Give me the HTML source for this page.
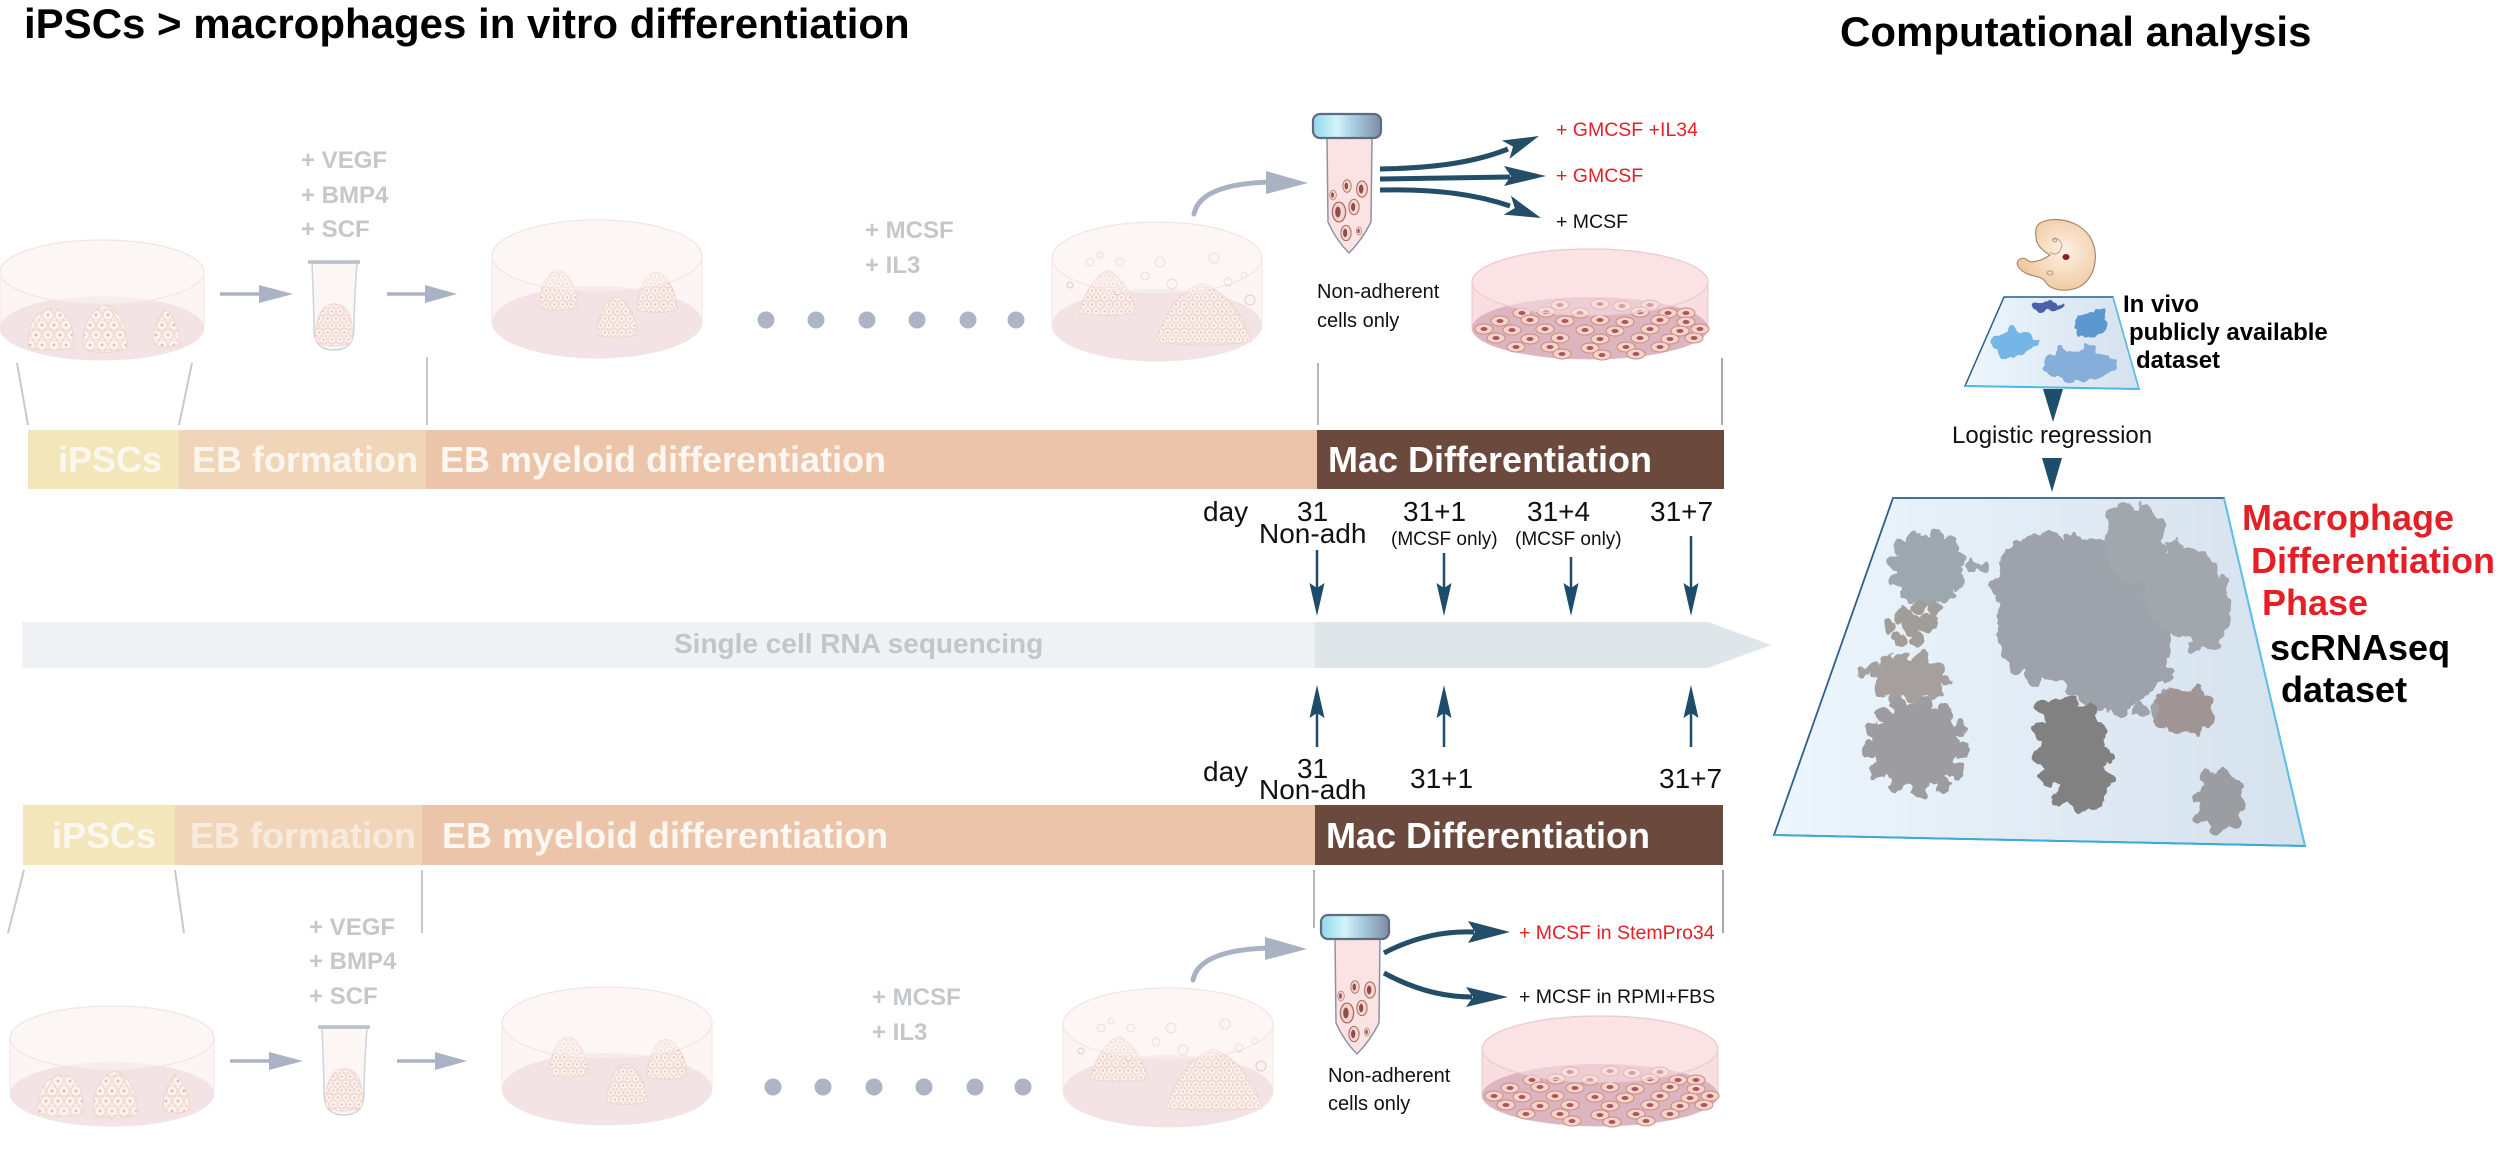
<!DOCTYPE html>
<html><head><meta charset="utf-8">
<style>
html,body{margin:0;padding:0;background:#fff;}
svg{display:block;}
text{font-family:"Liberation Sans",Arial,sans-serif;}
</style></head><body>
<svg width="2500" height="1150" viewBox="0 0 2500 1150" xmlns="http://www.w3.org/2000/svg" xmlns:xlink="http://www.w3.org/1999/xlink">
<defs>
  <filter id="rough" x="-15%" y="-15%" width="130%" height="130%">
    <feTurbulence type="fractalNoise" baseFrequency="0.09" numOctaves="2" seed="4" result="n"/>
    <feDisplacementMap in="SourceGraphic" in2="n" scale="12" xChannelSelector="R" yChannelSelector="G"/>
  </filter>
  <pattern id="cp" width="12" height="20" patternUnits="userSpaceOnUse">
    <rect width="12" height="20" fill="#faece6"/>
    <circle cx="6" cy="5" r="5.2" fill="#fdf4f0" stroke="#eccfc7" stroke-width="0.8"/>
    <circle cx="6" cy="5" r="1.5" fill="#e2bfbf"/>
    <circle cx="0" cy="15" r="5.2" fill="#fdf4f0" stroke="#eccfc7" stroke-width="0.8"/>
    <circle cx="0" cy="15" r="1.5" fill="#e2bfbf"/>
    <circle cx="12" cy="15" r="5.2" fill="#fdf4f0" stroke="#eccfc7" stroke-width="0.8"/>
    <circle cx="12" cy="15" r="1.5" fill="#e2bfbf"/>
  </pattern>
  <pattern id="cps" width="12" height="20" patternUnits="userSpaceOnUse" patternTransform="scale(0.7)">
    <rect width="12" height="20" fill="#faece6"/>
    <circle cx="6" cy="5" r="5.2" fill="#fdf4f0" stroke="#eccfc7" stroke-width="1"/>
    <circle cx="6" cy="5" r="1.6" fill="#e2bfbf"/>
    <circle cx="0" cy="15" r="5.2" fill="#fdf4f0" stroke="#eccfc7" stroke-width="1"/>
    <circle cx="0" cy="15" r="1.6" fill="#e2bfbf"/>
    <circle cx="12" cy="15" r="5.2" fill="#fdf4f0" stroke="#eccfc7" stroke-width="1"/>
    <circle cx="12" cy="15" r="1.6" fill="#e2bfbf"/>
  </pattern>
  <linearGradient id="capg" x1="0" x2="1" y1="0" y2="0">
    <stop offset="0" stop-color="#8fd8ec"/>
    <stop offset="0.35" stop-color="#d4f4fb"/>
    <stop offset="0.6" stop-color="#a8cde0"/>
    <stop offset="1" stop-color="#7d8ca3"/>
  </linearGradient>
  <linearGradient id="pang" x1="0" x2="1" y1="0" y2="0">
    <stop offset="0" stop-color="#edf6fd"/>
    <stop offset="1" stop-color="#d5e1ed"/>
  </linearGradient>
  <radialGradient id="embg" cx="0.6" cy="0.45" r="0.6">
    <stop offset="0" stop-color="#fdf1e4"/>
    <stop offset="1" stop-color="#f0c79e"/>
  </radialGradient>
  <g id="cell4">
    <ellipse rx="9" ry="5" fill="#f6d3c6" stroke="#c68b88" stroke-width="1"/>
    <ellipse rx="3.5" ry="2" fill="#a75762"/>
  </g>
  <g id="tcell">
    <ellipse rx="6" ry="9" fill="#f5d6ca" stroke="#a86d68" stroke-width="1.2"/>
    <ellipse cx="-1" rx="2.5" ry="5" fill="#8d4c52"/>
  </g>

  <g id="dish1">
    <path d="M0,272 L0,328 A102,32 0 0 0 204,328 L204,272 A102,32 0 0 0 0,272 Z" fill="#fcf5f4" stroke="#f3e6e5" stroke-width="1"/>
    <ellipse cx="102" cy="328" rx="102" ry="32" fill="#f3e3e4"/>
    <path d="M28,347 Q27,318 44,311 Q52,305 60,311 Q75,320 73,347 Q50,354 28,347 Z" fill="url(#cp)" stroke="#efd7d1"/>
    <path d="M83,349 Q83,316 100,307 Q108,303 114,310 Q128,322 127,349 Q105,356 83,349 Z" fill="url(#cp)" stroke="#efd7d1"/>
    <path d="M153,344 Q153,320 165,309 Q178,318 180,344 Q166,350 153,344 Z" fill="url(#cp)" stroke="#efd7d1"/>
    <ellipse cx="102" cy="272" rx="102" ry="32" fill="#fdf8f7" fill-opacity="0.45" stroke="#f2e3e2" stroke-width="1"/>
  </g>
  <g id="dish2">
    <path d="M492,256 L492,322 A105,36 0 0 0 702,322 L702,256 A105,36 0 0 0 492,256 Z" fill="#fcf5f4" stroke="#f3e6e5" stroke-width="1"/>
    <ellipse cx="597" cy="322" rx="105" ry="36" fill="#f3e3e4"/>
    <path d="M539,308 Q540,282 552,272 Q560,268 566,274 Q578,288 578,308 Q558,313 539,308 Z" fill="url(#cps)" stroke="#efd7d1"/>
    <path d="M597,335 Q598,310 610,299 Q618,295 624,301 Q637,315 637,335 Q617,340 597,335 Z" fill="url(#cps)" stroke="#efd7d1"/>
    <path d="M637,310 Q638,285 650,274 Q658,270 664,276 Q677,290 677,310 Q657,315 637,310 Z" fill="url(#cps)" stroke="#efd7d1"/>
    <ellipse cx="597" cy="256" rx="105" ry="36" fill="#fdf8f7" fill-opacity="0.4" stroke="#f2e3e2" stroke-width="1"/>
  </g>
  <g id="dish3">
    <path d="M1052,258 L1052,325 A105,36 0 0 0 1262,325 L1262,258 A105,36 0 0 0 1052,258 Z" fill="#fcf5f4" stroke="#f3e6e5" stroke-width="1"/>
    <ellipse cx="1157" cy="325" rx="105" ry="36" fill="#f3e3e4"/>
    <path d="M1079,313 Q1090,277 1108,270 Q1128,280 1137,313 Q1108,318 1079,313 Z" fill="url(#cps)" stroke="#efd7d1"/>
    <path d="M1155,342 Q1172,292 1203,283 Q1240,300 1251,342 Q1203,348 1155,342 Z" fill="url(#cps)" stroke="#efd7d1"/>
    <g fill="#fdf3ef" stroke="#e9c9c2" stroke-width="1">
      <circle cx="1090" cy="262" r="4"/><circle cx="1100" cy="255" r="3"/><circle cx="1120" cy="262" r="4"/>
      <circle cx="1145" cy="276" r="4"/><circle cx="1160" cy="262" r="5"/><circle cx="1172" cy="284" r="5"/>
      <circle cx="1214" cy="258" r="5"/><circle cx="1228" cy="282" r="4"/><circle cx="1250" cy="300" r="5"/>
      <circle cx="1118" cy="292" r="3"/><circle cx="1244" cy="275" r="3"/><circle cx="1070" cy="285" r="3"/>
    </g>
    <ellipse cx="1157" cy="258" rx="105" ry="36" fill="#fdf8f7" fill-opacity="0.4" stroke="#f2e3e2" stroke-width="1"/>
  </g>
  <g id="stube">
    <path d="M312,263 C313,290 314,310 314,328 Q314,350 334,350 Q354,350 354,328 C354,310 355,290 357,263 Z" fill="#fcf6f5" stroke="#cfd3dc" stroke-width="1.5"/>
    <path d="M316,342 Q314,316 326,306 Q335,301 344,307 Q354,316 352,342 Q334,350 316,342 Z" fill="url(#cps)" stroke="#efd7d1"/>
    <line x1="308" y1="262" x2="360" y2="262" stroke="#b9c0cc" stroke-width="3.5"/>
  </g>
  <g id="sarrows" fill="#aab3c5" stroke="#aab3c5">
    <line x1="220" y1="294" x2="262" y2="294" stroke-width="3.5"/>
    <polygon points="259,285 293,294 259,303" stroke="none"/>
    <line x1="387" y1="294" x2="428" y2="294" stroke-width="3.5"/>
    <polygon points="425,285 457,294 425,303" stroke="none"/>
  </g>
  <g id="dots" fill="#adb5c5">
    <circle cx="766" cy="320" r="8.5"/><circle cx="816" cy="320" r="8.5"/><circle cx="867" cy="320" r="8.5"/>
    <circle cx="917" cy="320" r="8.5"/><circle cx="968" cy="320" r="8.5"/><circle cx="1016" cy="320" r="8.5"/>
  </g>
  <g id="carrow">
    <path d="M1194,214 Q1200,184 1270,182" fill="none" stroke="#a8b2c2" stroke-width="5" stroke-linecap="round"/>
    <polygon points="1266,171 1308,183 1266,194" fill="#a8b2c2"/>
  </g>
  <g id="ctube">
    <path d="M1327,137 L1372,137 L1371,222 Q1362,240 1349,253 Q1336,240 1328,222 Z" fill="#fbe3e4" stroke="#8b94a5" stroke-width="1.5"/>
    <g transform="translate(1333,195) scale(0.55)"><use href="#tcell" xlink:href="#tcell"/></g>
    <g transform="translate(1347,186) scale(0.7)"><use href="#tcell" xlink:href="#tcell"/></g>
    <g transform="translate(1362,189) scale(0.9)"><use href="#tcell" xlink:href="#tcell"/></g>
    <g transform="translate(1339,212) scale(1.1)"><use href="#tcell" xlink:href="#tcell"/></g>
    <g transform="translate(1354,207) scale(0.85)"><use href="#tcell" xlink:href="#tcell"/></g>
    <g transform="translate(1346,233) scale(0.85)"><use href="#tcell" xlink:href="#tcell"/></g>
    <g transform="translate(1359,231) scale(0.45)"><use href="#tcell" xlink:href="#tcell"/></g>
    <rect x="1313" y="114" width="68" height="24" rx="7" fill="url(#capg)" stroke="#5e6c82" stroke-width="2.2"/>
  </g>
  <g id="dish4">
    <path d="M1472,282 L1472,328 A118,31 0 0 0 1708,328 L1708,282 A118,33 0 0 0 1472,282 Z" fill="#f8dde1" stroke="#e7c6cc" stroke-width="1"/>
    <ellipse cx="1590" cy="328" rx="118" ry="31" fill="#dcb5be"/>
    <g>
      <use href="#cell4" xlink:href="#cell4" x="1560" y="305"/><use href="#cell4" xlink:href="#cell4" x="1600" y="304"/>
      <use href="#cell4" xlink:href="#cell4" x="1622" y="306"/><use href="#cell4" xlink:href="#cell4" x="1650" y="305"/>
      <use href="#cell4" xlink:href="#cell4" x="1522" y="313"/><use href="#cell4" xlink:href="#cell4" x="1546" y="312"/>
      <use href="#cell4" xlink:href="#cell4" x="1580" y="313"/><use href="#cell4" xlink:href="#cell4" x="1640" y="312"/>
      <use href="#cell4" xlink:href="#cell4" x="1668" y="313"/><use href="#cell4" xlink:href="#cell4" x="1686" y="313"/>
      <use href="#cell4" xlink:href="#cell4" x="1500" y="321"/><use href="#cell4" xlink:href="#cell4" x="1530" y="320"/>
      <use href="#cell4" xlink:href="#cell4" x="1565" y="321"/><use href="#cell4" xlink:href="#cell4" x="1600" y="320"/>
      <use href="#cell4" xlink:href="#cell4" x="1625" y="322"/><use href="#cell4" xlink:href="#cell4" x="1660" y="320"/>
      <use href="#cell4" xlink:href="#cell4" x="1686" y="322"/><use href="#cell4" xlink:href="#cell4" x="1484" y="329"/>
      <use href="#cell4" xlink:href="#cell4" x="1512" y="330"/><use href="#cell4" xlink:href="#cell4" x="1545" y="329"/>
      <use href="#cell4" xlink:href="#cell4" x="1585" y="330"/><use href="#cell4" xlink:href="#cell4" x="1615" y="331"/>
      <use href="#cell4" xlink:href="#cell4" x="1650" y="329"/><use href="#cell4" xlink:href="#cell4" x="1680" y="331"/>
      <use href="#cell4" xlink:href="#cell4" x="1700" y="329"/><use href="#cell4" xlink:href="#cell4" x="1496" y="338"/>
      <use href="#cell4" xlink:href="#cell4" x="1530" y="339"/><use href="#cell4" xlink:href="#cell4" x="1560" y="338"/>
      <use href="#cell4" xlink:href="#cell4" x="1600" y="339"/><use href="#cell4" xlink:href="#cell4" x="1640" y="338"/>
      <use href="#cell4" xlink:href="#cell4" x="1670" y="339"/><use href="#cell4" xlink:href="#cell4" x="1694" y="338"/>
      <use href="#cell4" xlink:href="#cell4" x="1516" y="347"/><use href="#cell4" xlink:href="#cell4" x="1550" y="347"/>
      <use href="#cell4" xlink:href="#cell4" x="1590" y="348"/><use href="#cell4" xlink:href="#cell4" x="1626" y="347"/>
      <use href="#cell4" xlink:href="#cell4" x="1660" y="347"/><use href="#cell4" xlink:href="#cell4" x="1562" y="354"/>
      <use href="#cell4" xlink:href="#cell4" x="1602" y="355"/><use href="#cell4" xlink:href="#cell4" x="1636" y="354"/>
    </g>
    <ellipse cx="1590" cy="282" rx="118" ry="33" fill="#fbe8ea" fill-opacity="0.5" stroke="#eccbd0" stroke-width="1.2"/>
  </g>
</defs>

<!-- Titles -->
<text x="24" y="38" font-size="42" font-weight="bold" fill="#000">iPSCs &gt; macrophages in vitro differentiation</text>
<text x="1840" y="46" font-size="42" font-weight="bold" fill="#000">Computational analysis</text>

<!-- ===== TOP ROW ===== -->
<use href="#dish1" xlink:href="#dish1"/>
<use href="#sarrows" xlink:href="#sarrows"/>
<use href="#stube" xlink:href="#stube"/>
<use href="#dish2" xlink:href="#dish2"/>
<use href="#dots" xlink:href="#dots"/>
<use href="#dish3" xlink:href="#dish3"/>
<use href="#carrow" xlink:href="#carrow"/>
<use href="#ctube" xlink:href="#ctube"/>
<use href="#dish4" xlink:href="#dish4"/>

<g font-size="24" font-weight="bold" fill="#c5c7cb">
  <text x="301" y="168">+ VEGF</text>
  <text x="301" y="203">+ BMP4</text>
  <text x="301" y="237">+ SCF</text>
  <text x="865" y="238">+ MCSF</text>
  <text x="865" y="273">+ IL3</text>
</g>

<g fill="none" stroke="#244d67" stroke-width="5">
  <path d="M1380,169 C1440,168 1478,161 1508,149"/>
  <path d="M1380,179 L1510,177"/>
  <path d="M1380,190 C1440,189 1478,195 1510,206"/>
</g>
<g fill="#244d67">
  <polygon points="1539,136 1509.5,158.9 1513,146.6 1501.9,140.5"/>
  <polygon points="1546,176 1504,186 1511,176 1504,166"/>
  <polygon points="1541,218 1510.9,195.8 1514.8,208.1 1503.7,214.6"/>
</g>
<g font-size="19.5">
  <text x="1556" y="136" fill="#e41f26">+ GMCSF +IL34</text>
  <text x="1556" y="182" fill="#e41f26">+ GMCSF</text>
  <text x="1556" y="228" fill="#111">+ MCSF</text>
</g>
<g font-size="20" fill="#111">
  <text x="1317" y="298">Non-adherent</text>
  <text x="1317" y="327">cells only</text>
</g>

<g stroke="#c9c9c9" stroke-width="2" fill="none">
  <line x1="17" y1="363" x2="28" y2="425"/>
  <line x1="192" y1="363" x2="179" y2="425"/>
  <line x1="427" y1="357" x2="427" y2="425"/>
  <line x1="1318" y1="363" x2="1318" y2="425" stroke="#b5b5b5"/>
  <line x1="1722" y1="358" x2="1722" y2="425" stroke="#a8a8a8"/>
</g>

<!-- Bar 1 -->
<rect x="28" y="430" width="151" height="59" fill="#f3e6bb"/>
<rect x="179" y="430" width="247" height="59" fill="#f1d5b8"/>
<rect x="426" y="430" width="891" height="59" fill="#ebc4aa"/>
<rect x="1317" y="430" width="407" height="59" fill="#6b4a3d"/>
<g font-size="36" font-weight="bold">
  <text x="58" y="472" fill="#fcf8ef">iPSCs</text>
  <text x="192" y="472" fill="#fcf6ef">EB formation</text>
  <text x="440" y="472" fill="#fdf7f2">EB myeloid differentiation</text>
  <text x="1328" y="472" fill="#ffffff">Mac Differentiation</text>
</g>

<g font-size="28" fill="#111">
  <text x="1203" y="521">day</text>
  <text x="1297" y="521">31</text>
  <text x="1259" y="543">Non-adh</text>
  <text x="1403" y="521">31+1</text>
  <text x="1527" y="521">31+4</text>
  <text x="1650" y="521">31+7</text>
</g>
<g font-size="19" fill="#111">
  <text x="1391" y="545">(MCSF only)</text>
  <text x="1515" y="545">(MCSF only)</text>
</g>

<g stroke="#1d4d6b" stroke-width="2.5">
  <line x1="1317" y1="550" x2="1317" y2="590"/>
  <line x1="1444" y1="553" x2="1444" y2="590"/>
  <line x1="1571" y1="557" x2="1571" y2="590"/>
  <line x1="1691" y1="536" x2="1691" y2="590"/>
</g>
<g fill="#1d4d6b">
  <polygon points="1309.5,583 1317,588 1324.5,583 1317,616"/>
  <polygon points="1436.5,583 1444,588 1451.5,583 1444,616"/>
  <polygon points="1563.5,583 1571,588 1578.5,583 1571,616"/>
  <polygon points="1683.5,583 1691,588 1698.5,583 1691,616"/>
</g>

<polygon points="22,622 1708,622 1771,645 1708,668 22,668" fill="#eff1f4"/>
<polygon points="1315,622 1708,622 1771,645 1708,668 1315,668" fill="#dfe6e9"/>
<text x="674" y="653" font-size="28" font-weight="bold" fill="#c2c6cb">Single cell RNA sequencing</text>

<g stroke="#1d4d6b" stroke-width="2.5">
  <line x1="1317" y1="747" x2="1317" y2="712"/>
  <line x1="1444" y1="747" x2="1444" y2="712"/>
  <line x1="1691" y1="747" x2="1691" y2="712"/>
</g>
<g fill="#1d4d6b">
  <polygon points="1309.5,718 1317,713 1324.5,718 1317,685"/>
  <polygon points="1436.5,718 1444,713 1451.5,718 1444,685"/>
  <polygon points="1683.5,718 1691,713 1698.5,718 1691,685"/>
</g>

<g font-size="28" fill="#111">
  <text x="1203" y="781">day</text>
  <text x="1297" y="778">31</text>
  <text x="1259" y="799">Non-adh</text>
  <text x="1410" y="788">31+1</text>
  <text x="1659" y="788">31+7</text>
</g>

<!-- Bar 2 -->
<rect x="23" y="805" width="152" height="60" fill="#f3e6bb"/>
<rect x="175" y="805" width="247" height="60" fill="#f1d5b8"/>
<rect x="422" y="805" width="893" height="60" fill="#ebc4aa"/>
<rect x="1315" y="805" width="408" height="60" fill="#6b4a3d"/>
<g font-size="36" font-weight="bold">
  <text x="52" y="848" fill="#fcf8ef">iPSCs</text>
  <text x="190" y="848" fill="#f8ebde">EB formation</text>
  <text x="442" y="848" fill="#fdf7f2">EB myeloid differentiation</text>
  <text x="1326" y="848" fill="#ffffff">Mac Differentiation</text>
</g>

<g stroke="#c9c9c9" stroke-width="2" fill="none">
  <line x1="24" y1="870" x2="8" y2="933"/>
  <line x1="175" y1="870" x2="184" y2="933"/>
  <line x1="422" y1="870" x2="422" y2="933"/>
  <line x1="1314" y1="870" x2="1314" y2="928" stroke="#b5b5b5"/>
  <line x1="1723" y1="870" x2="1723" y2="933" stroke="#a8a8a8"/>
</g>

<!-- ===== BOTTOM ROW ===== -->
<use href="#dish1" xlink:href="#dish1" transform="translate(10,766)"/>
<use href="#sarrows" xlink:href="#sarrows" transform="translate(10,767)"/>
<use href="#stube" xlink:href="#stube" transform="translate(10,765)"/>
<use href="#dish2" xlink:href="#dish2" transform="translate(10,767)"/>
<use href="#dots" xlink:href="#dots" transform="translate(7,767)"/>
<use href="#dish3" xlink:href="#dish3" transform="translate(11,766)"/>
<use href="#carrow" xlink:href="#carrow" transform="translate(-1,766)"/>
<use href="#ctube" xlink:href="#ctube" transform="translate(8,801)"/>
<use href="#dish4" xlink:href="#dish4" transform="translate(10,767)"/>

<g font-size="24" font-weight="bold" fill="#c5c7cb">
  <text x="309" y="935">+ VEGF</text>
  <text x="309" y="969">+ BMP4</text>
  <text x="309" y="1004">+ SCF</text>
  <text x="872" y="1005">+ MCSF</text>
  <text x="872" y="1040">+ IL3</text>
</g>

<g fill="none" stroke="#244d67" stroke-width="5">
  <path d="M1384,953 Q1428,930 1474,932"/>
  <path d="M1384,973 Q1428,997 1472,997"/>
</g>
<g fill="#244d67">
  <polygon points="1510,932 1468,943 1475,932 1468,921"/>
  <polygon points="1508,997 1466,1007 1473,997 1466,987"/>
</g>
<g font-size="19.5">
  <text x="1519" y="939" fill="#e41f26">+ MCSF in StemPro34</text>
  <text x="1519" y="1003" fill="#111">+ MCSF in RPMI+FBS</text>
</g>
<g font-size="20" fill="#111">
  <text x="1328" y="1082">Non-adherent</text>
  <text x="1328" y="1110">cells only</text>
</g>

<!-- ===== RIGHT SIDE ===== -->
<path d="M2040,223 C2055,215 2080,221 2090,237 C2099,252 2097,275 2081,286 C2068,293 2050,291 2045,281 C2040,275 2030,277 2024,272 C2017,268 2015,262 2020,259 C2026,256 2027,262 2032,262 C2040,261 2046,258 2050,255 C2043,251 2036,245 2036,237 C2035,230 2036,226 2040,223 Z" fill="url(#embg)" stroke="#a48b74" stroke-width="1.2"/>
<path d="M2052,240 Q2060,236 2062,246 Q2058,258 2050,252" fill="none" stroke="#b59c86" stroke-width="0.9"/>
<circle cx="2055" cy="240" r="2" fill="none" stroke="#a48b74" stroke-width="0.8"/>
<ellipse cx="2066" cy="257" rx="3.5" ry="3" fill="#8b1a2a"/>
<ellipse cx="2050" cy="273" rx="3" ry="2" fill="none" stroke="#a48b74" stroke-width="0.8"/>

<polygon points="2004,297 2113,297 2139,389 1965,386" fill="url(#pang)" stroke="#2c5c8a" stroke-width="1.5"/>
<line x1="1965" y1="386" x2="2139" y2="389" stroke="#4bbbe4" stroke-width="2"/>
<line x1="2113" y1="297" x2="2139" y2="389" stroke="#5ac4ea" stroke-width="1.5"/>
<g filter="url(#rough)">
  <ellipse cx="2047" cy="307" rx="14" ry="5" fill="#4a60aa"/>
  <circle cx="2052" cy="304" r="4" fill="#4a60aa"/>
  <ellipse cx="2091" cy="324" rx="16" ry="12" fill="#5b98cf"/>
  <circle cx="2082" cy="332" r="6" fill="#5b98cf"/><circle cx="2098" cy="315" r="6" fill="#5b98cf"/>
  <ellipse cx="2014" cy="344" rx="22" ry="12" fill="#74b6e6"/>
  <circle cx="2002" cy="350" r="6" fill="#74b6e6"/><circle cx="2034" cy="342" r="5" fill="#74b6e6"/><circle cx="2010" cy="334" r="6" fill="#74b6e6"/>
  <ellipse cx="2080" cy="366" rx="36" ry="15" fill="#86aedb"/>
  <circle cx="2112" cy="364" r="6" fill="#86aedb"/><circle cx="2063" cy="354" r="7" fill="#86aedb"/><circle cx="2090" cy="352" r="7" fill="#86aedb"/><circle cx="2070" cy="378" r="6" fill="#86aedb"/>
</g>
<g font-size="24" font-weight="bold" fill="#000">
  <text x="2123" y="312">In vivo</text>
  <text x="2129" y="340">publicly available</text>
  <text x="2136" y="368">dataset</text>
</g>
<polygon points="2043,389 2063,389 2053,422" fill="#1d4e6b"/>
<text x="1952" y="443" font-size="24" fill="#111">Logistic regression</text>
<polygon points="2042,458 2062,458 2052,492" fill="#1d4e6b"/>

<polygon points="1893,498 2224,498 2305,846 1774,835" fill="url(#pang)" stroke="#2f5f8c" stroke-width="1.8"/>
<line x1="1774" y1="835" x2="2305" y2="846" stroke="#3fa9d8" stroke-width="2"/>
<line x1="2224" y1="498" x2="2305" y2="846" stroke="#5ac4ea" stroke-width="1.8"/>

<g filter="url(#rough)">
<g fill="#9ca7ae">
  <ellipse cx="1928" cy="568" rx="32" ry="33"/>
  <circle cx="1902" cy="547" r="8"/><circle cx="1915" cy="539" r="8"/><circle cx="1935" cy="537" r="8"/>
  <circle cx="1950" cy="545" r="8"/><circle cx="1958" cy="558" r="8"/><circle cx="1972" cy="567" r="7"/>
  <circle cx="1983" cy="566" r="6"/><circle cx="1957" cy="582" r="8"/><circle cx="1946" cy="595" r="8"/>
  <circle cx="1928" cy="600" r="8"/><circle cx="1908" cy="594" r="8"/><circle cx="1898" cy="580" r="8"/><circle cx="1896" cy="562" r="8"/>
</g>
<g fill="#a19e99">
  <circle cx="1890" cy="627" r="8"/><circle cx="1903" cy="615" r="9"/><circle cx="1918" cy="607" r="8"/>
  <circle cx="1928" cy="622" r="9"/><circle cx="1917" cy="640" r="8"/><circle cx="1900" cy="640" r="7"/>
  <circle cx="1912" cy="625" r="10"/><circle cx="1935" cy="608" r="7"/>
</g>
<g fill="#a59f9d">
  <ellipse cx="1910" cy="678" rx="33" ry="19"/>
  <circle cx="1862" cy="672" r="6"/><circle cx="1874" cy="670" r="7"/><circle cx="1887" cy="663" r="8"/>
  <circle cx="1903" cy="661" r="8"/><circle cx="1922" cy="660" r="8"/><circle cx="1938" cy="667" r="7"/>
  <circle cx="1945" cy="680" r="6"/><circle cx="1934" cy="692" r="8"/><circle cx="1915" cy="697" r="8"/>
  <circle cx="1895" cy="695" r="8"/><circle cx="1881" cy="688" r="8"/>
</g>
<g fill="#9d9da1">
  <ellipse cx="1916" cy="746" rx="42" ry="41"/>
  <circle cx="1882" cy="714" r="8"/><circle cx="1900" cy="706" r="8"/><circle cx="1925" cy="705" r="8"/>
  <circle cx="1946" cy="712" r="8"/><circle cx="1959" cy="729" r="8"/><circle cx="1963" cy="750" r="8"/>
  <circle cx="1955" cy="770" r="8"/><circle cx="1943" cy="784" r="8"/><circle cx="1920" cy="789" r="8"/>
  <circle cx="1896" cy="785" r="8"/><circle cx="1879" cy="770" r="8"/><circle cx="1870" cy="750" r="8"/><circle cx="1874" cy="729" r="8"/>
</g>
<g fill="#9ea3ab">
  <ellipse cx="2060" cy="610" rx="62" ry="70"/>
  <ellipse cx="2040" cy="570" rx="40" ry="35"/>
  <ellipse cx="2110" cy="640" rx="60" ry="70"/>
  <ellipse cx="2090" cy="570" rx="35" ry="30"/>
  <ellipse cx="2020" cy="630" rx="22" ry="40"/>
  <circle cx="2002" cy="600" r="8"/><circle cx="2005" cy="625" r="8"/><circle cx="2010" cy="650" r="8"/>
  <circle cx="2017" cy="666" r="8"/><circle cx="2032" cy="542" r="8"/><circle cx="2050" cy="537" r="8"/>
  <circle cx="2070" cy="541" r="8"/><circle cx="2095" cy="546" r="8"/><circle cx="1999" cy="585" r="8"/>
  <circle cx="2012" cy="561" r="8"/><circle cx="2022" cy="550" r="8"/><circle cx="2168" cy="675" r="8"/>
  <circle cx="2170" cy="696" r="8"/><circle cx="2158" cy="711" r="8"/><circle cx="2140" cy="710" r="8"/>
  <circle cx="2120" cy="711" r="8"/><circle cx="2100" cy="703" r="8"/><circle cx="2085" cy="690" r="8"/>
  <circle cx="2034" cy="678" r="8"/><circle cx="2050" cy="674" r="8"/>
</g>
<g fill="#a2a6ad">
  <ellipse cx="2135" cy="548" rx="30" ry="38"/>
  <ellipse cx="2185" cy="592" rx="40" ry="45"/>
  <ellipse cx="2205" cy="620" rx="22" ry="28"/>
  <circle cx="2114" cy="530" r="8"/><circle cx="2112" cy="516" r="8"/><circle cx="2125" cy="509" r="8"/>
  <circle cx="2145" cy="512" r="8"/><circle cx="2158" cy="527" r="8"/><circle cx="2173" cy="547" r="8"/>
  <circle cx="2193" cy="556" r="8"/><circle cx="2210" cy="567" r="8"/><circle cx="2222" cy="585" r="7"/>
  <circle cx="2224" cy="605" r="7"/><circle cx="2222" cy="625" r="7"/><circle cx="2212" cy="643" r="8"/>
  <circle cx="2196" cy="646" r="8"/>
</g>
<g fill="#818181">
  <ellipse cx="2072" cy="748" rx="33" ry="43"/>
  <ellipse cx="2085" cy="785" rx="25" ry="24"/>
  <ellipse cx="2060" cy="712" rx="20" ry="14"/>
  <circle cx="2044" cy="708" r="8"/><circle cx="2042" cy="730" r="8"/><circle cx="2040" cy="755" r="8"/>
  <circle cx="2047" cy="779" r="8"/><circle cx="2061" cy="798" r="8"/><circle cx="2080" cy="806" r="8"/>
  <circle cx="2099" cy="798" r="8"/><circle cx="2106" cy="779" r="8"/><circle cx="2105" cy="755" r="8"/>
  <circle cx="2099" cy="730" r="8"/><circle cx="2089" cy="708" r="7"/><circle cx="2070" cy="702" r="7"/>
</g>
<g fill="#a09594">
  <ellipse cx="2185" cy="712" rx="27" ry="19"/>
  <circle cx="2162" cy="701" r="7"/><circle cx="2160" cy="721" r="7"/><circle cx="2175" cy="727" r="7"/>
  <circle cx="2195" cy="729" r="7"/><circle cx="2208" cy="719" r="7"/><circle cx="2209" cy="701" r="7"/>
  <circle cx="2197" cy="694" r="7"/><circle cx="2173" cy="695" r="7"/>
</g>
<g fill="#9c9da2">
  <ellipse cx="2220" cy="800" rx="21" ry="29"/>
  <circle cx="2207" cy="777" r="7"/><circle cx="2225" cy="774" r="7"/><circle cx="2236" cy="787" r="7"/>
  <circle cx="2239" cy="805" r="7"/><circle cx="2234" cy="822" r="7"/><circle cx="2215" cy="828" r="7"/>
  <circle cx="2202" cy="817" r="7"/><circle cx="2200" cy="798" r="7"/>
</g>
</g>

<g font-size="36" font-weight="bold">
  <text x="2242" y="530" fill="#e41f26">Macrophage</text>
  <text x="2251" y="573" fill="#e41f26">Differentiation</text>
  <text x="2262" y="615" fill="#e41f26">Phase</text>
  <text x="2270" y="660" fill="#000">scRNAseq</text>
  <text x="2281" y="702" fill="#000">dataset</text>
</g>
</svg>
</body></html>
